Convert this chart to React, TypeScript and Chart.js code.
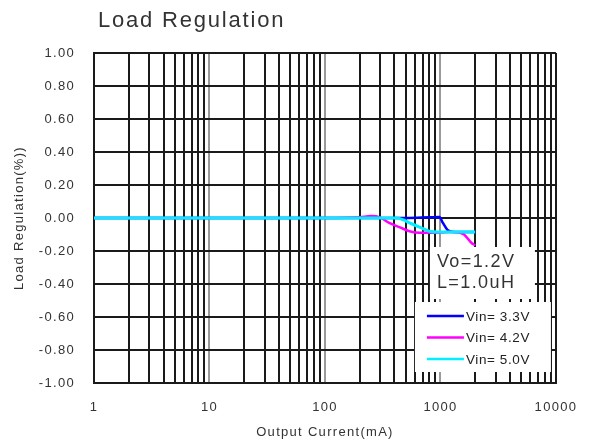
import React, { useEffect, useRef } from 'react';
import { Chart, registerables } from 'chart.js';

Chart.register(...registerables);

// ---- data ----
const decadeValues = [1, 10, 100, 1000, 10000];
const decadeLabels = ['1', '10', '100', '1000', '10000'];
const minorMultipliers = [1, 2, 3, 4, 5, 6, 7, 8, 9];
const yTickValues = [-1, -0.8, -0.6, -0.4, -0.2, 0, 0.2, 0.4, 0.6, 0.8, 1];
const yTickLabels = ['-1.00', '-0.80', '-0.60', '-0.40', '-0.20', '0.00', '0.20', '0.40', '0.60', '0.80', '1.00'];

const seriesNames = ['Vin= 3.3V', 'Vin= 4.2V', 'Vin= 5.0V'];
const seriesColors = ['#0000ff', '#ff00ff', '#00f0ff'];

const vin33X = [1, 10, 100, 300, 500, 800, 980, 1050, 1150, 1300, 2000];
const vin33Y = [0, 0, 0, 0, 0, 0.004, 0.006, -0.03, -0.072, -0.085, -0.085];

const vin42X = [1, 10, 100, 200, 250, 300, 360, 440, 540, 660, 800, 1000, 1200, 1400, 1600, 1850, 2000];
const vin42Y = [0, 0, 0, 0.005, 0.012, 0.004, -0.03, -0.055, -0.08, -0.09, -0.09, -0.088, -0.085, -0.086, -0.1, -0.15, -0.165];

const vin50X = [1, 10, 100, 300, 420, 480, 540, 660, 800, 1000, 1500, 2000];
const vin50Y = [0, 0, 0, 0, 0, -0.012, -0.03, -0.055, -0.08, -0.085, -0.085, -0.085];

const titleText = 'Load Regulation';
const xTitle = 'Output Current(mA)';
const yTitle = 'Load Regulation(%))';
const noteLines = ['Vo=1.2V', 'L=1.0uH'];

const FONT = "'Liberation Sans', Arial, sans-serif";

function toPoints(xs: number[], ys: number[]) {
  return xs.map((x, i) => ({ x, y: ys[i] }));
}

export default function App() {
  const ref = useRef<HTMLCanvasElement | null>(null);

  useEffect(() => {
    document.body.style.margin = '0';
    const canvas = ref.current;
    if (!canvas) return;

    const xGridTicks: number[] = [];
    for (let d = 0; d < decadeValues.length - 1; d++) {
      for (const m of minorMultipliers) xGridTicks.push(decadeValues[d] * m);
    }
    xGridTicks.push(decadeValues[decadeValues.length - 1]);

    const overlay = {
      id: 'overlay',
      beforeDraw(chart: any) {
        (chart.ctx as any).letterSpacing = '1.3px';
      },
      beforeDatasetsDraw(chart: any) {
        const { ctx, chartArea: ca } = chart;
        ctx.save();
        ctx.fillStyle = '#ffffff';
        ctx.fillRect(ca.right - 126, ca.bottom - 136, 105, 52);
        ctx.fillRect(ca.right - 141, ca.bottom - 81, 136, 70);
        ctx.restore();
      },
      afterDatasetsDraw(chart: any) {
        const { ctx, chartArea: ca } = chart;
        ctx.save();
        // note
        ctx.fillStyle = '#333333';
        ctx.font = `18px ${FONT}`;
        (ctx as any).letterSpacing = '1.4px';
        ctx.textAlign = 'left';
        ctx.textBaseline = 'alphabetic';
        ctx.fillText(noteLines[0], ca.right - 119, ca.bottom - 116.5);
        ctx.fillText(noteLines[1], ca.right - 119, ca.bottom - 95.5);
        // legend
        ctx.font = `13.5px ${FONT}`;
        (ctx as any).letterSpacing = '0.6px';
        ctx.textBaseline = 'middle';
        for (let i = 0; i < seriesNames.length; i++) {
          const y = ca.bottom - 67 + i * 21.5;
          ctx.strokeStyle = seriesColors[i];
          ctx.lineWidth = 2.5;
          ctx.beginPath();
          ctx.moveTo(ca.right - 129, y);
          ctx.lineTo(ca.right - 92, y);
          ctx.stroke();
          ctx.fillStyle = '#222222';
          ctx.fillText(seriesNames[i], ca.right - 90, y + 1);
        }
        ctx.restore();
      },
      afterDraw(chart: any) {
        const { ctx } = chart;
        ctx.save();
        ctx.fillStyle = '#333333';
        ctx.font = `22px ${FONT}`;
        (ctx as any).letterSpacing = '1.8px';
        ctx.textAlign = 'left';
        ctx.textBaseline = 'alphabetic';
        ctx.fillText(titleText, 98, 27);
        ctx.restore();
      },
    };

    const makeDs = (i: number, xs: number[], ys: number[], width: number, order: number) => ({
      label: seriesNames[i],
      data: toPoints(xs, ys),
      borderColor: seriesColors[i],
      backgroundColor: seriesColors[i],
      borderWidth: width,
      pointRadius: 0,
      tension: 0.4,
      cubicInterpolationMode: 'monotone' as const,
      fill: false,
      order,
    });

    const chart = new Chart(canvas, {
      type: 'line',
      data: {
        datasets: [
          makeDs(0, vin33X, vin33Y, 2.5, 2),
          makeDs(1, vin42X, vin42Y, 2.5, 1),
          makeDs(2, vin50X, vin50Y, 3, 0),
        ],
      },
      options: {
        animation: false,
        responsive: false,
        devicePixelRatio: 1,
        layout: { padding: { left: 0, top: 53, right: 34, bottom: 0 } },
        plugins: {
          legend: { display: false },
          title: { display: false },
          tooltip: { enabled: false },
        },
        scales: {
          x: {
            type: 'logarithmic',
            min: 1,
            max: 10000,
            afterFit(scale: any) {
              scale.height = 58;
            },
            afterBuildTicks(scale: any) {
              scale.ticks = xGridTicks.map((v) => ({ value: v, major: decadeValues.includes(v) }));
            },
            ticks: {
              autoSkip: false,
              maxRotation: 0,
              padding: 17,
              color: '#333333',
              font: { family: FONT, size: 13 },
              callback: (value: any) => {
                const idx = decadeValues.indexOf(Number(value));
                return idx >= 0 ? decadeLabels[idx] : '';
              },
            },
            grid: {
              drawTicks: false,
              lineWidth: 2,
              color: (ctx: any) => {
                const v = ctx.tick ? ctx.tick.value : 0;
                return v === 10 || v === 100 || v === 1000 ? '#9a9a9a' : '#1a1a1a';
              },
            },
            border: { display: true, color: '#1a1a1a', width: 2 },
            title: {
              display: true,
              text: xTitle,
              color: '#333333',
              font: { family: FONT, size: 13 },
              padding: { top: 0, bottom: 1 },
            },
          },
          y: {
            type: 'linear',
            min: -1,
            max: 1,
            afterFit(scale: any) {
              scale.width = 94;
            },
            afterBuildTicks(scale: any) {
              scale.ticks = yTickValues.map((v) => ({ value: v }));
            },
            ticks: {
              autoSkip: false,
              padding: 19,
              color: '#333333',
              font: { family: FONT, size: 13 },
              callback: (value: any) => {
                const idx = yTickValues.findIndex((v) => Math.abs(v - Number(value)) < 1e-6);
                return idx >= 0 ? yTickLabels[idx] : '';
              },
            },
            grid: {
              drawTicks: false,
              lineWidth: 2,
              color: '#1a1a1a',
            },
            border: { display: true, color: '#1a1a1a', width: 2 },
            title: {
              display: true,
              text: yTitle,
              color: '#333333',
              font: { family: FONT, size: 13 },
              padding: { top: 12, bottom: 0 },
            },
          },
        },
      },
      plugins: [overlay],
    } as any);

    return () => chart.destroy();
  }, []);

  return (
    <div style={{ width: 591, height: 441, position: 'relative', background: '#ffffff' }}>
      <canvas ref={ref} width={591} height={441} style={{ width: 591, height: 441, display: 'block' }} />
    </div>
  );
}
